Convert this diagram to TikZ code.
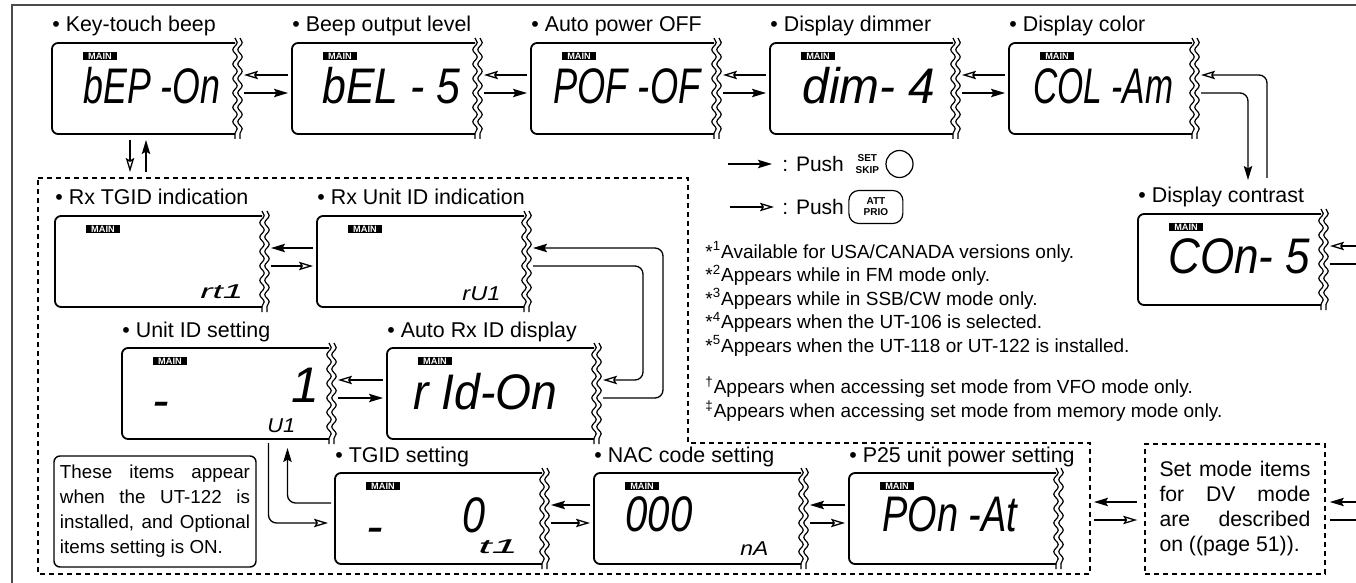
\documentclass[tikz,border=0pt]{standalone}
\usepackage{graphicx}
\usepackage{fontspec}
\setmainfont{Liberation Sans}
\usetikzlibrary{arrows.meta,decorations.pathmorphing,positioning}
\newcommand{\lcdtxt}[2]{\resizebox{#1}{\height}{#2}}

\begin{document}
\begin{tikzpicture}[x=0.5pt,y=-0.5pt,
  lcd/.style={minimum height=45.5pt,inner sep=0pt,outer sep=0pt},
  outline/.style={line width=0.9pt,rounded corners=3pt},
  wavy/.style={line width=0.6pt,decorate,decoration={snake,amplitude=1.1pt,segment length=7.2pt}},
  badge/.style={fill=black,text=white,inner sep=0pt,minimum width=17pt,minimum height=4.4pt,
    font=\fontsize{4.6}{4.6}\selectfont\bfseries},
  ttl/.style={anchor=base west,inner sep=0pt,font=\fontsize{10.7}{12}\selectfont},
  lcdbig/.style={anchor=base west,inner sep=0pt,font=\fontsize{25}{25}\selectfont\itshape},
  lcdsmall/.style={anchor=base west,inner sep=0pt,font=\fontsize{10}{10}\selectfont\itshape},
  fwd/.style={line width=0.65pt,-{Stealth[length=7pt,width=4.2pt,inset=1.2pt]}},
  back/.style={line width=0.65pt,-{Stealth[open,length=7pt,width=4.2pt,inset=1.2pt]}},
  link/.style={line width=0.65pt},
  grp/.style={line width=0.8pt,dash pattern=on 2.6pt off 1.9pt},
  notebox/.style={draw,line width=0.7pt,rounded corners=3pt,inner sep=0pt,align=justify,
    font=\fontsize{9.4}{12.5}\selectfont},
  dvbox/.style={draw,grp,inner sep=0pt,align=justify,font=\fontsize{10.6}{12.5}\selectfont},
  fnote/.style={anchor=north west,inner sep=0pt,align=left,font=\fontsize{9.5}{11.75}\selectfont},
  legtxt/.style={anchor=west,inner sep=0pt,font=\fontsize{10.5}{12}\selectfont},
  keytxt/.style={inner sep=0.5pt,align=center,font=\fontsize{5}{5.6}\selectfont\bfseries},
  knob/.style={circle,draw,line width=0.6pt,minimum size=13.5pt,inner sep=0pt}]
  \useasboundingbox (0,0) rectangle (1356,583);
  \draw[line width=1pt,black!70] (12,583) -- (12,5) -- (1356,5);

  % LCD windows with their item names
  \foreach \nm/\cx/\cy/\w/\lbl in {
      bep/143.5/88.5/91.5pt/Key-touch beep,
      bel/383.5/88.5/91.5pt/Beep output level,
      pof/622.5/88.5/91.5pt/Auto power OFF,
      dim/861.5/88.5/91.5pt/Display dimmer,
      col/1100.5/88.5/91.5pt/Display color,
      con/1229.5/259.5/91.5pt/Display contrast,
      rxtg/158.5/261.5/103.5pt/Rx TGID indication,
      rxuid/420.5/261.5/103.5pt/Rx Unit ID indication,
      uid/225.5/393.5/103.5pt/Unit ID setting,
      ridon/490.5/393.5/103.5pt/Auto Rx ID display,
      tgid/438.5/518.5/103.5pt/TGID setting,
      nac/697.5/518.5/103.5pt/NAC code setting,
      p25/952.5/518.5/103.5pt/P25 unit power setting}{
    \node[lcd,minimum width=\w] (\nm) at (\cx,\cy) {};
    \draw[outline] (\nm.north east) -- (\nm.north west) -- (\nm.south west) -- (\nm.south east);
    \draw[wavy] ([yshift=2.5pt]\nm.north east) -- ([yshift=-2.5pt]\nm.south east);
    \draw[wavy] ([xshift=2.5pt,yshift=2.5pt]\nm.north east) -- ([xshift=2.5pt,yshift=-2.5pt]\nm.south east);
    \node[badge] at ([xshift=24pt,yshift=-6.5pt]\nm.north west) {MAIN};
    \node[ttl] (\nm-t) at ([yshift=5.5pt]\nm.north west) {• \lbl};
  }

  % Segment readouts.
  \node[lcdbig] (bep-d) at (83,104) {\lcdtxt{68.5pt}{bEP -On}};
  \node[lcdbig] (bel-d) at (322,104) {\lcdtxt{69pt}{bEL - 5}};
  \node[lcdbig] (pof-d) at (553,104) {\lcdtxt{73.5pt}{POF -OF}};
  \node[lcdbig] (dim-d) at (802,104) {\lcdtxt{66.5pt}{dim- 4}};
  \node[lcdbig] (col-d) at (1033,104) {\lcdtxt{70pt}{COL -Am}};
  \node[lcdbig] (con-d) at (1168,273) {\lcdtxt{71pt}{COn- 5}};
  \node[lcdbig] (ridon-d) at (413,409) {\lcdtxt{72pt}{r Id-On}};
  \node[lcdbig] (p25-d) at (882,531) {\lcdtxt{67.5pt}{POn -At}};
  \node[lcdbig] (nac-d) at (625,531) {\lcdtxt{33.5pt}{000}};
  \node[lcdbig] (tgid-d) at (462,532) {\lcdtxt{11.5pt}{0}};
  \node[lcdbig] (tgid-m) at (366,543.5) {-};
  \node[lcdbig] (uid-m) at (152,417.5) {-};
  \node[lcdbig,anchor=base east] (uid-d) at (320,402) {1};
  \node[lcdsmall] (rxtg-d) at (200,299) {\lcdtxt{21.5pt}{rt1}};
  \node[lcdsmall] (rxuid-d) at (462,300) {\lcdtxt{19pt}{rU1}};
  \node[lcdsmall] (uid-s) at (267,432) {\lcdtxt{14pt}{U1}};
  \node[lcdsmall] (tgid-s) at (478,553) {\lcdtxt{20pt}{t1}};
  \node[lcdsmall] (nac-s) at (740,555) {\lcdtxt{14pt}{nA}};

  % Optional items group and its notes.
  \draw[grp] (38,178) -- (688,178) -- (688,443) -- (1090,443) -- (1090,574) -- (38,574) -- cycle;
  \node[notebox,minimum width=101pt,minimum height=55.5pt,text width=95pt] (optnote) at (155,511.5)
    {These items appear\linebreak when the UT-122 is\linebreak installed, and Optional\linebreak items setting is ON.};
  \node[dvbox,minimum width=90pt,minimum height=65pt,text width=75.5pt] (dvnote) at (1235,509)
    {Set mode items\linebreak for DV mode\linebreak are described\linebreak on ((page 51)).};

  % Legend and footnotes.
  \coordinate (leg-a) at (728,164);
  \coordinate (leg-b) at (730,207);
  \node[legtxt] (push1) at (782,164) {: Push};
  \node[keytxt,right=5pt of push1] (setskip) {SET\\SKIP};
  \node[knob,right=2.5pt of setskip] (dial) {};
  \node[legtxt] (push2) at (782,207) {: Push};
  \node[keytxt,draw,line width=0.6pt,rounded corners=5pt,minimum width=27pt,minimum height=16.5pt,
    right=2pt of push2] (attprio) {ATT\\PRIO};
  \draw[fwd] (leg-a) -- ([xshift=-5pt]push1.west);
  \draw[back] (leg-b) -- ([xshift=-4pt]push2.west);
  \node[fnote] (fnotes) at (705,241) {*\textsuperscript{1}Available for USA/CANADA versions only.\\
    *\textsuperscript{2}Appears while in FM mode only.\\
    *\textsuperscript{3}Appears while in SSB/CW mode only.\\
    *\textsuperscript{4}Appears when the UT-106 is selected.\\
    *\textsuperscript{5}Appears when the UT-118 or UT-122 is installed.};
  \node[fnote,font=\fontsize{9.5}{12}\selectfont] (accnotes) at (705,376)
    {\textsuperscript{†}Appears when accessing set mode from VFO mode only.\\
    \textsuperscript{‡}Appears when accessing set mode from memory mode only.};

  % Side by side steps.
  \foreach \a/\b in {bep/bel,bel/pof,pof/dim,dim/col,uid/ridon}{
    \draw[fwd] ([xshift=4.5pt,yshift=-2.25pt]\a.east) -- ([xshift=-2pt,yshift=-2.25pt]\b.west);
    \draw[back] ([xshift=-2pt,yshift=6.75pt]\b.west) -- ([xshift=4.5pt,yshift=6.75pt]\a.east);
  }
  \foreach \a/\b in {rxtg/rxuid,tgid/nac,nac/p25}{
    \draw[back] ([xshift=4.5pt,yshift=-2.25pt]\a.east) -- ([xshift=-2pt,yshift=-2.25pt]\b.west);
    \draw[fwd] ([xshift=-2pt,yshift=6.75pt]\b.west) -- ([xshift=4.5pt,yshift=6.75pt]\a.east);
  }

  % Turns between rows.
  \coordinate (loop-o) at (663,320);
  \coordinate (loop-i) at (643,320);
  \draw[fwd,rounded corners=4pt] ([xshift=4.5pt,yshift=-2.25pt]ridon.east) -| (loop-o)
    |- ([xshift=4.5pt,yshift=6.75pt]rxuid.east);
  \draw[back,rounded corners=4pt] ([xshift=4.5pt,yshift=-2.25pt]rxuid.east) -| (loop-i)
    |- ([xshift=4.5pt,yshift=6.75pt]ridon.east);
  \coordinate (con-a) at (1248,180);
  \coordinate (con-b) at (1267,178);
  \draw[fwd,rounded corners=4pt] ([xshift=4.5pt,yshift=-2.25pt]col.east) -| (con-a);
  \draw[back,rounded corners=4pt] (con-b) |- ([xshift=4.5pt,yshift=6.75pt]col.east);
  \draw[fwd,rounded corners=4pt] ([xshift=-2pt,yshift=7.75pt]tgid.west)
    -| ([xshift=31pt,yshift=-4.5pt]uid.south);
  \draw[back,rounded corners=4pt] ([xshift=21.5pt,yshift=-2pt]uid.south)
    |- ([xshift=-3.5pt,yshift=-2.25pt]tgid.west);

  % Links to the group and off the page.
  \coordinate (grp-a) at (130,172);
  \coordinate (grp-b) at (146,172);
  \draw[back] ([xshift=-6.75pt,yshift=-3pt]bep.south) -- (grp-a);
  \draw[fwd] (grp-b) -- ([xshift=1.25pt,yshift=-3pt]bep.south);
  \coordinate (grp-e1) at (1094,502);
  \coordinate (grp-e2) at (1094,520);
  \draw[fwd] ([xshift=-3.5pt,yshift=3.5pt]dvnote.west) -- (grp-e1);
  \draw[back] (grp-e2) -- ([xshift=-3.5pt,yshift=-5.5pt]dvnote.west);
  \coordinate (dv-r1) at (1356,502);
  \coordinate (dv-r2) at (1356,520);
  \draw[fwd] (dv-r1) -- ([xshift=2pt,yshift=3.5pt]dvnote.east);
  \draw[link] ([xshift=2pt,yshift=-5.5pt]dvnote.east) -- (dv-r2);
  \coordinate (con-r1) at (1356,246);
  \coordinate (con-r2) at (1356,264);
  \draw[back] (con-r1) -- ([xshift=4.5pt,yshift=6.75pt]con.east);
  \draw[link] ([xshift=4.5pt,yshift=-2.25pt]con.east) -- (con-r2);
\end{tikzpicture}
\end{document}
